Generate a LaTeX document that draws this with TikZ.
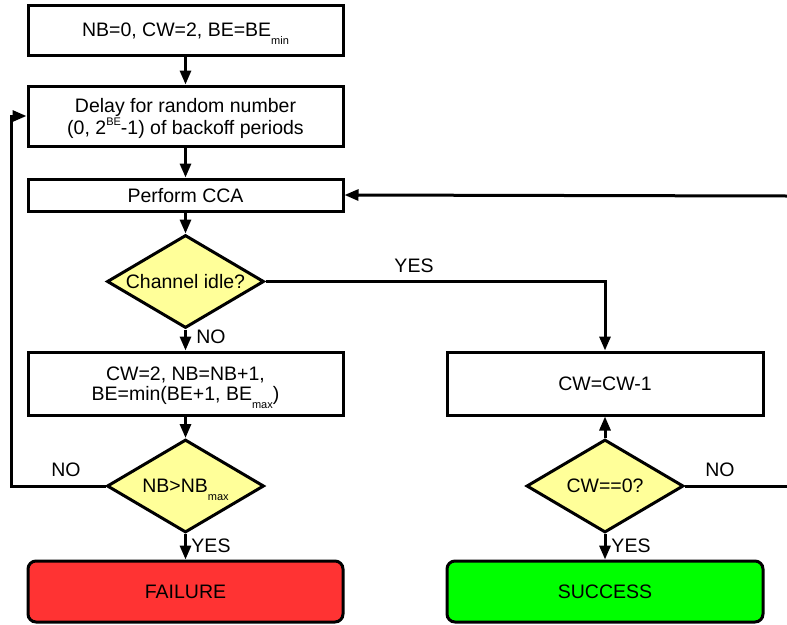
\documentclass[tikz,border=0pt]{standalone}
\usepackage{fontspec}
\setmainfont{Liberation Sans}
\usetikzlibrary{shapes.geometric,arrows.meta}

\definecolor{decfill}{HTML}{FFFF99}
\definecolor{failred}{HTML}{FF3333}
\definecolor{okgreen}{HTML}{00FF00}

% small lowered / raised indices that do not change the line box
\newcommand{\lowidx}[1]{\raisebox{-0.4em}[0pt][0pt]{\fontsize{11}{11}\selectfont #1}}
\newcommand{\highidx}[1]{\raisebox{0.42em}[0pt][0pt]{\fontsize{11}{11}\selectfont #1}}

\begin{document}
\begin{tikzpicture}[x=1pt,y=-1pt,
  font=\fontsize{19.5}{22}\selectfont,
  conn/.style={line width=3pt},
  arr/.style={conn,-{Triangle[length=14pt,width=11pt]}},
  procbox/.style={draw,line width=3pt,minimum width=315pt,inner sep=0pt,align=center,text depth=0pt},
  decision/.style={diamond,aspect=1.69,draw,line width=3pt,fill=decfill,minimum width=157pt,minimum height=93pt,inner sep=0pt},
  terminal/.style={procbox,rounded corners=8pt,minimum height=61pt},
  lbl/.style={inner sep=0pt}]

\useasboundingbox (0,0) rectangle (787,624);

% left column
\node[procbox,minimum height=50pt] (init) at (185.5,30) {NB=0, CW=2, BE=BE\lowidx{min}};
\node[procbox,minimum height=60pt] (delay) at (185.5,116) {Delay for random number\\(0, 2\highidx{BE}-1) of backoff periods};
\node[procbox,minimum height=32pt] (cca) at (185.5,195) {Perform CCA};
\node[decision] (idle) at (185.5,281.5) {Channel idle?};
\node[procbox,minimum height=63pt,font=\fontsize{19.5}{20}\selectfont] (backoff) at (185.5,383.5) {CW=2, NB=NB+1,\\BE=min(BE+1, BE\lowidx{max})};
\node[decision] (nbmax) at (185.5,486) {NB>NB\lowidx{max}};
\node[terminal,fill=failred] (fail) at (185.5,591.5) {FAILURE};

% right column
\node[procbox,minimum height=63pt,minimum width=316pt] (cwdec) at (605,383.5) {CW=CW-1};
\node[decision] (cwzero) at (605,486) {CW==0?};
\node[terminal,fill=okgreen,minimum width=316pt] (succ) at (605,591.5) {SUCCESS};

% free ends of the loop lines
\coordinate (loopL) at (11,486);
\coordinate (exitR) at (787,486);
\coordinate (entryR) at (787,196);

% connectors
\draw[arr] (init) -- (delay);
\draw[arr] (delay) -- (cca);
\draw[arr] (cca) -- (idle);
\draw[arr] (idle) -- (backoff);
\draw[arr] (idle.east) -| (cwdec.north);
\draw[arr] (backoff) -- (nbmax);
\draw[arr] (nbmax) -- (fail);
\draw[arr] (nbmax.west) -- (loopL) |- (delay.west);
\draw[arr] (cwzero) -- (cwdec);
\draw[arr] (cwzero) -- (succ);
\draw[conn] (cwzero.east) -- (exitR);
\draw[arr] (entryR) -- (cca.east);

% branch labels
\node[lbl] (yesIdle) at (414,266) {YES};
\node[lbl] (noIdle) at (211,337) {NO};
\node[lbl] (noNB) at (66,470) {NO};
\node[lbl] (yesNB) at (211,546) {YES};
\node[lbl] (yesCW) at (631,546) {YES};
\node[lbl] (noCW) at (720,470) {NO};
\end{tikzpicture}
\end{document}
